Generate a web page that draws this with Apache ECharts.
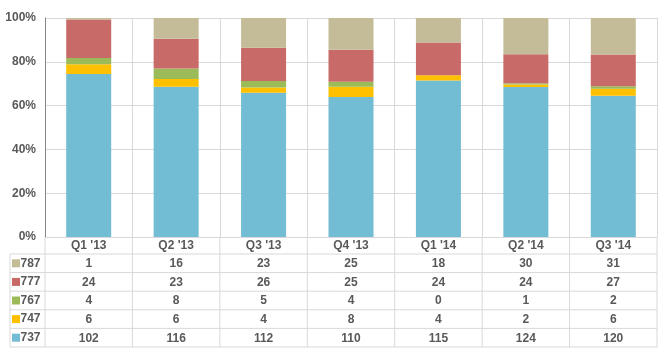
<!DOCTYPE html>
<html>
<head>
<meta charset="utf-8">
<script src="https://cdn.jsdelivr.net/npm/echarts@6/dist/echarts.min.js"></script>
<style>
  html, body { margin: 0; padding: 0; background: #fff; }
  #chart { width: 667px; height: 351px; }
</style>
</head>
<body>
<div id="chart"></div>
<script>
// quarters and aircraft deliveries per model
var quarters = ["Q1 '13", "Q2 '13", "Q3 '13", "Q4 '13", "Q1 '14", "Q2 '14", "Q3 '14"];
var models = ['737', '747', '767', '777', '787'];
var v737 = [102, 116, 112, 110, 115, 124, 120];
var v747 = [6, 6, 4, 8, 4, 2, 6];
var v767 = [4, 8, 5, 4, 0, 1, 2];
var v777 = [24, 23, 26, 25, 24, 24, 27];
var v787 = [1, 16, 23, 25, 18, 30, 31];
var yTicks = [0, 20, 40, 60, 80, 100];

var colors = ['#72bcd4', '#ffc000', '#9bbb59', '#c86a67', '#c4bc98'];
var counts = [v737, v747, v767, v777, v787];
var textGrey = '#595959';
var lineGrey = '#d9d9d9';
var font = '"Liberation Sans", Arial, sans-serif';

var totals = quarters.map(function (q, i) {
    var s = 0;
    counts.forEach(function (arr) { s += arr[i]; });
    return s;
});

var myChart = echarts.init(document.getElementById('chart'));

// table grid lines (layout only)
var L = 45, R = 657, T = 18, B = 237, TL = 10;
var rowY = [254, 272.6, 291.2, 309.8, 328.4, 347];
var gfx = [];
rowY.forEach(function (y) {
    gfx.push({ type: 'line', shape: { x1: TL, y1: y, x2: R, y2: y }, style: { stroke: lineGrey, lineWidth: 1 }, silent: true });
});
gfx.push({ type: 'line', shape: { x1: TL, y1: rowY[0], x2: TL, y2: 347 }, style: { stroke: lineGrey, lineWidth: 1 }, silent: true });
for (var k = 0; k <= quarters.length; k++) {
    var x = L + (R - L) * k / quarters.length;
    gfx.push({ type: 'line', shape: { x1: x, y1: B, x2: x, y2: 347 }, style: { stroke: lineGrey, lineWidth: 1 }, silent: true });
}
// row headers: colour key + model name (787 on top)
for (var r = 0; r < models.length; r++) {
    var m = models.length - 1 - r;
    var cy = (rowY[r] + rowY[r + 1]) / 2;
    gfx.push({ type: 'rect', shape: { x: 12, y: cy - 4, width: 8, height: 8 }, style: { fill: colors[m] }, silent: true });
    gfx.push({ type: 'text', x: 20.5, y: cy, style: { text: models[m], fill: textGrey, font: 'bold 12px ' + font, verticalAlign: 'middle', align: 'left' }, silent: true });
}

myChart.setOption({
    animation: false,
    color: colors,
    textStyle: { fontFamily: font },
    grid: { left: L, right: 667 - R, top: T, bottom: 351 - B },
    xAxis: {
        type: 'category',
        data: quarters,
        axisTick: { show: false },
        axisLine: { lineStyle: { color: lineGrey } },
        splitLine: { show: true, lineStyle: { color: lineGrey } },
        axisLabel: {
            margin: 0,
            interval: 0,
            formatter: function (val, idx) {
                var s = '{h|' + val + '}';
                for (var m = models.length - 1; m >= 0; m--) {
                    s += '\n{v|' + counts[m][idx] + '}';
                }
                return s;
            },
            rich: {
                h: { color: textGrey, fontSize: 12, fontWeight: 'bold', lineHeight: 17.5, fontFamily: font },
                v: { color: textGrey, fontSize: 12, fontWeight: 'bold', lineHeight: 18.6, fontFamily: font }
            }
        }
    },
    yAxis: {
        type: 'value',
        min: yTicks[0],
        max: yTicks[yTicks.length - 1],
        interval: 20,
        axisLine: { show: true, lineStyle: { color: '#868686' } },
        axisTick: { show: false },
        splitLine: { lineStyle: { color: lineGrey } },
        axisLabel: { formatter: '{value}%', color: textGrey, fontSize: 12, fontWeight: 'bold', margin: 9 }
    },
    series: models.map(function (name, m) {
        return {
            name: name,
            type: 'bar',
            stack: 'total',
            barWidth: 45,
            data: counts[m].map(function (v, i) { return v / totals[i] * 100; })
        };
    }),
    graphic: gfx
});
window.onresize = myChart.resize;
</script>
</body>
</html>
